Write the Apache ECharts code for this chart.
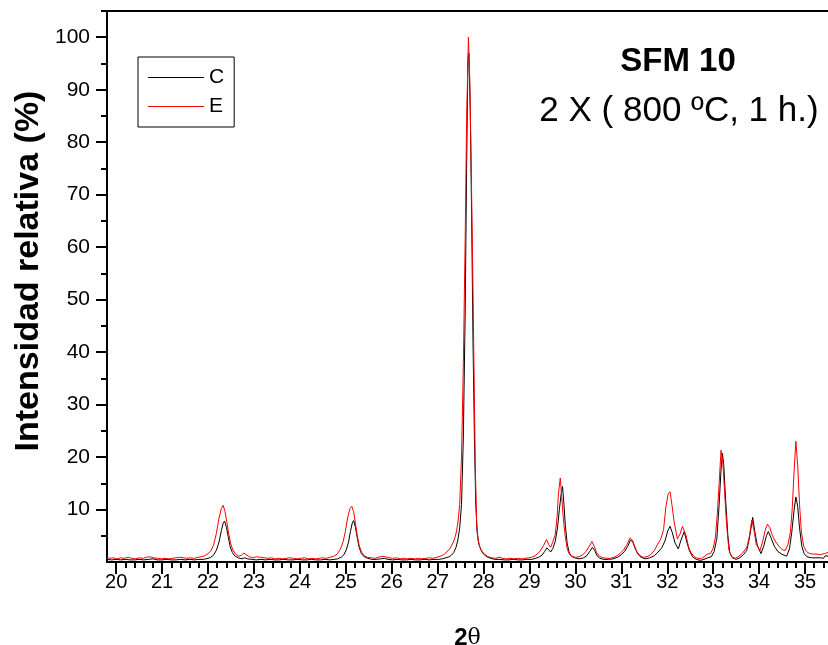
<!DOCTYPE html>
<html>
<head>
<meta charset="utf-8">
<script src="https://cdn.jsdelivr.net/npm/echarts@6/dist/echarts.min.js"></script>
<style>
  html, body { margin: 0; padding: 0; background: #fff; }
  #chart { width: 828px; height: 645px; }
</style>
</head>
<body>
<div id="chart"></div>
<script>
// X-ray diffraction patterns of sample SFM 10, relative intensity vs 2θ
const seriesNames = ['C', 'E'];

// pattern C: [2θ, relative intensity %]
const patternC = [
  [19.80,0.5],[19.90,0.4],[20.00,0.5],[20.10,0.4],[20.20,0.5],[20.30,0.4],[20.40,0.4],[20.50,0.5],
  [20.60,0.4],[20.70,0.5],[20.80,0.6],[20.90,0.4],[21.00,0.4],[21.10,0.5],[21.20,0.4],[21.30,0.4],
  [21.40,0.5],[21.50,0.4],[21.60,0.5],[21.70,0.4],[21.80,0.5],[21.90,0.5],[22.00,0.7],[22.06,0.9],
  [22.12,1.3],[22.18,2.2],[22.24,3.8],[22.29,6.0],[22.33,7.4],[22.36,7.8],[22.40,6.6],[22.44,4.8],
  [22.48,3.0],[22.53,1.8],[22.59,1.1],[22.66,0.8],[22.74,0.6],[22.80,0.8],[22.86,0.6],[22.95,0.5],
  [23.05,0.4],[23.15,0.5],[23.25,0.4],[23.35,0.5],[23.45,0.4],[23.55,0.4],[23.65,0.5],[23.75,0.4],
  [23.85,0.4],[23.95,0.5],[24.05,0.4],[24.15,0.4],[24.25,0.5],[24.35,0.4],[24.45,0.4],[24.55,0.5],
  [24.65,0.4],[24.75,0.5],[24.82,0.6],[24.90,0.9],[24.96,1.4],[25.01,2.3],[25.06,3.8],[25.10,5.8],
  [25.14,7.4],[25.17,7.9],[25.21,6.6],[25.25,4.6],[25.29,2.8],[25.34,1.6],[25.40,1.0],[25.48,0.7],
  [25.56,0.5],[25.66,0.5],[25.76,0.6],[25.84,0.7],[25.92,0.5],[26.02,0.4],[26.12,0.5],[26.22,0.4],
  [26.32,0.4],[26.42,0.5],[26.52,0.4],[26.62,0.4],[26.72,0.5],[26.82,0.4],[26.92,0.5],[27.02,0.5],
  [27.10,0.6],[27.18,0.8],[27.25,1.0],[27.30,1.3],[27.35,1.8],[27.40,2.8],[27.44,4.2],[27.48,6.5],
  [27.52,11.0],[27.56,24.0],[27.60,48.0],[27.63,75.0],[27.66,96.0],[27.68,97.0],[27.71,86.0],[27.74,66.0],
  [27.77,42.0],[27.80,24.0],[27.83,11.0],[27.86,5.6],[27.90,3.3],[27.95,2.2],[28.00,1.5],[28.07,1.0],
  [28.15,0.7],[28.25,0.5],[28.35,0.5],[28.45,0.4],[28.55,0.4],[28.65,0.5],[28.75,0.4],[28.85,0.4],
  [28.95,0.5],[29.05,0.5],[29.13,0.7],[29.20,0.9],[29.27,1.3],[29.33,2.0],[29.38,2.7],[29.42,2.3],
  [29.46,1.9],[29.51,2.6],[29.56,3.9],[29.61,6.5],[29.65,10.0],[29.69,13.0],[29.72,14.4],[29.75,11.0],
  [29.78,7.0],[29.82,3.6],[29.86,1.9],[29.91,1.1],[29.98,0.8],[30.08,0.6],[30.18,0.8],[30.25,1.2],
  [30.31,2.0],[30.37,2.8],[30.42,2.2],[30.47,1.2],[30.53,0.7],[30.62,0.5],[30.72,0.5],[30.82,0.6],
  [30.92,0.9],[31.00,1.4],[31.07,2.0],[31.14,3.0],[31.20,4.2],[31.25,3.8],[31.30,2.6],[31.36,1.5],
  [31.43,0.9],[31.52,0.6],[31.62,0.8],[31.72,1.2],[31.80,1.9],[31.88,2.7],[31.95,4.0],[32.01,5.9],
  [32.06,6.8],[32.11,5.6],[32.17,3.6],[32.24,2.5],[32.30,4.2],[32.37,5.8],[32.42,4.0],[32.48,2.2],
  [32.55,1.0],[32.63,0.5],[32.72,0.3],[32.80,0.5],[32.88,0.8],[32.96,1.0],[33.02,2.0],[33.08,4.5],
  [33.13,11.0],[33.17,17.5],[33.20,20.7],[33.23,18.5],[33.27,12.0],[33.32,5.0],[33.36,1.8],[33.42,0.8],
  [33.50,0.5],[33.58,0.8],[33.66,1.4],[33.73,2.2],[33.79,4.6],[33.86,8.5],[33.91,5.6],[33.96,3.2],
  [34.04,1.6],[34.10,3.0],[34.16,5.0],[34.20,5.8],[34.26,4.6],[34.33,3.0],[34.41,2.0],[34.49,1.5],
  [34.60,1.1],[34.66,2.5],[34.71,5.6],[34.76,9.8],[34.80,12.4],[34.84,10.6],[34.88,6.5],[34.93,3.0],
  [34.98,1.6],[35.04,1.0],[35.14,0.8],[35.24,0.8],[35.34,0.8],[35.40,0.7],[35.44,1.2],[35.50,1.1]
];

// pattern E: [2θ, relative intensity %]
const patternE = [
  [19.80,0.9],[19.86,0.7],[19.94,0.8],[20.02,0.6],[20.10,0.8],[20.18,0.7],[20.26,0.9],[20.34,0.7],
  [20.42,0.6],[20.50,0.8],[20.58,0.7],[20.66,0.9],[20.74,1.0],[20.82,0.8],[20.90,0.7],[20.98,0.6],
  [21.06,0.7],[21.14,0.6],[21.22,0.7],[21.30,0.8],[21.38,0.9],[21.46,0.8],[21.54,0.7],[21.62,0.8],
  [21.70,0.7],[21.78,0.9],[21.86,1.0],[21.93,1.2],[22.00,1.6],[22.06,2.1],[22.12,3.2],[22.18,5.4],
  [22.24,8.4],[22.29,10.2],[22.33,10.8],[22.37,9.6],[22.41,7.6],[22.45,5.4],[22.49,3.6],[22.54,2.3],
  [22.60,1.5],[22.67,1.1],[22.73,1.3],[22.78,1.7],[22.83,1.4],[22.90,1.0],[22.98,0.8],[23.06,1.0],
  [23.14,0.9],[23.22,0.8],[23.30,0.7],[23.38,0.8],[23.46,0.6],[23.54,0.7],[23.62,0.6],[23.70,0.7],
  [23.78,0.8],[23.86,0.7],[23.94,0.6],[24.02,0.7],[24.10,0.8],[24.18,0.6],[24.26,0.7],[24.34,0.6],
  [24.42,0.7],[24.50,0.8],[24.58,0.7],[24.66,0.9],[24.74,1.1],[24.81,1.5],[24.88,2.4],[24.94,3.8],
  [24.99,5.8],[25.04,8.4],[25.09,10.2],[25.13,10.6],[25.17,9.6],[25.21,7.4],[25.25,5.0],[25.29,3.2],
  [25.34,1.9],[25.40,1.2],[25.47,0.9],[25.55,0.8],[25.63,0.7],[25.71,0.9],[25.79,1.1],[25.86,1.0],
  [25.94,0.8],[26.02,0.7],[26.10,0.8],[26.18,0.6],[26.26,0.7],[26.34,0.6],[26.42,0.7],[26.50,0.6],
  [26.58,0.7],[26.66,0.6],[26.74,0.7],[26.82,0.8],[26.90,0.7],[26.98,0.9],[27.06,1.1],[27.13,1.4],
  [27.20,1.9],[27.26,2.5],[27.31,3.2],[27.36,4.2],[27.40,5.4],[27.44,7.4],[27.48,11.0],[27.52,20.0],
  [27.56,38.0],[27.60,62.0],[27.63,84.0],[27.67,100.0],[27.70,92.0],[27.73,76.0],[27.76,58.0],[27.79,38.0],
  [27.82,18.0],[27.85,7.5],[27.88,4.2],[27.92,2.8],[27.97,2.0],[28.03,1.4],[28.10,1.0],[28.18,0.8],
  [28.26,0.7],[28.34,0.9],[28.42,0.7],[28.50,0.6],[28.58,0.7],[28.66,0.6],[28.74,0.7],[28.82,0.6],
  [28.90,0.7],[28.98,0.8],[29.05,0.9],[29.12,1.2],[29.19,1.7],[29.25,2.3],[29.31,3.2],[29.37,4.3],
  [29.42,3.3],[29.46,2.8],[29.51,3.9],[29.56,5.2],[29.60,8.5],[29.63,13.0],[29.67,16.0],[29.70,12.5],
  [29.74,8.0],[29.78,4.8],[29.82,2.6],[29.86,1.6],[29.92,1.1],[30.00,0.9],[30.08,1.0],[30.16,1.4],
  [30.23,2.0],[30.30,3.0],[30.36,3.9],[30.41,3.0],[30.46,1.8],[30.52,1.1],[30.60,0.8],[30.68,0.7],
  [30.76,0.7],[30.84,0.9],[30.91,1.2],[30.98,1.7],[31.05,2.3],[31.12,3.3],[31.19,4.6],[31.24,4.2],
  [31.29,3.0],[31.34,1.9],[31.41,1.2],[31.48,0.9],[31.56,1.0],[31.64,1.4],[31.72,2.2],[31.79,3.4],
  [31.86,4.4],[31.92,6.2],[31.97,10.5],[32.02,13.0],[32.06,13.4],[32.10,11.0],[32.15,7.6],[32.22,4.4],
  [32.28,5.4],[32.33,6.8],[32.36,7.1],[32.41,5.0],[32.46,3.0],[32.52,1.7],[32.59,1.0],[32.66,0.7],
  [32.74,0.6],[32.80,1.0],[32.87,1.5],[32.94,1.6],[33.00,2.6],[33.05,4.8],[33.09,9.2],[33.13,15.0],
  [33.17,21.3],[33.21,19.0],[33.25,13.0],[33.29,7.4],[33.34,2.4],[33.40,1.0],[33.48,0.7],[33.56,1.1],
  [33.63,1.6],[33.70,2.4],[33.74,3.0],[33.79,5.0],[33.84,8.0],[33.89,6.0],[33.94,3.3],[34.02,2.2],
  [34.08,4.0],[34.13,6.0],[34.18,7.2],[34.23,6.6],[34.29,5.0],[34.35,4.0],[34.43,3.0],[34.51,2.3],
  [34.57,2.2],[34.63,3.4],[34.68,5.6],[34.72,10.0],[34.76,17.0],[34.80,23.0],[34.84,18.5],[34.88,11.0],
  [34.92,5.8],[34.97,3.0],[35.03,2.0],[35.10,1.6],[35.18,1.5],[35.26,1.5],[35.34,1.4],[35.42,1.6],
  [35.50,1.8]
];

// axis ticks
const xMajorTicks = [20, 21, 22, 23, 24, 25, 26, 27, 28, 29, 30, 31, 32, 33, 34, 35];
const yMajorTicks = [10, 20, 30, 40, 50, 60, 70, 80, 90, 100];
const yMinorTicks = [5, 15, 25, 35, 45, 55, 65, 75, 85, 95, 105];

// minor x ticks every 0.2 between major ticks
const xMinorTicks = [];
xMajorTicks.forEach(function (m) {
  [0.2, 0.4, 0.6, 0.8].forEach(function (d) {
    const v = Math.round((m + d) * 10) / 10;
    if (v < 35.5) xMinorTicks.push(v);
  });
});

const FONT = '"Liberation Sans", Arial, Helvetica, sans-serif';
const X_MIN = 19.8, X_MAX = 35.5, Y_MIN = 0, Y_MAX = 105;

const chart = echarts.init(document.getElementById('chart'), null, { renderer: 'canvas' });

const axisLineStyle = { color: '#000', width: 2 };

chart.setOption({
  animation: false,
  backgroundColor: '#fff',
  grid: { left: 107, top: 11, right: 0, bottom: 83, containLabel: false, outerBoundsMode: 'none' },
  legend: {
    data: seriesNames,
    orient: 'vertical',
    left: 138,
    top: 57,
    padding: [10, 10, 10, 10],
    itemGap: 8,
    itemWidth: 56,
    itemHeight: 1.2,
    icon: 'rect',
    borderColor: '#000',
    borderWidth: 1,
    textStyle: { fontFamily: FONT, fontSize: 21, color: '#000', padding: [0, 0, 0, 0] }
  },
  xAxis: [
    {
      type: 'value', min: X_MIN, max: X_MAX, position: 'bottom',
      axisLine: { show: true, onZero: false, lineStyle: axisLineStyle },
      axisTick: { show: true, customValues: xMajorTicks, length: 12, lineStyle: { color: '#000', width: 2 } },
      axisLabel: { show: true, customValues: xMajorTicks, fontFamily: FONT, fontSize: 20, color: '#000', margin: 10 },
      splitLine: { show: false },
      name: '{b|2}{t|θ}',
      nameLocation: 'middle',
      nameGap: 64,
      nameTextStyle: {
        rich: {
          b: { fontFamily: FONT, fontWeight: 'bold', fontSize: 24, color: '#000' },
          t: { fontFamily: '"DejaVu Serif", "Liberation Serif", serif', fontSize: 22, color: '#000' }
        }
      }
    },
    {
      type: 'value', min: X_MIN, max: X_MAX, position: 'bottom',
      axisLine: { show: false, onZero: false },
      axisTick: { show: true, customValues: xMinorTicks, length: 6, lineStyle: { color: '#000', width: 2 } },
      axisLabel: { show: false },
      splitLine: { show: false }
    },
    {
      type: 'value', min: X_MIN, max: X_MAX, position: 'top',
      axisLine: { show: true, onZero: false, lineStyle: axisLineStyle },
      axisTick: { show: false },
      axisLabel: { show: false },
      splitLine: { show: false }
    }
  ],
  yAxis: [
    {
      type: 'value', min: Y_MIN, max: Y_MAX, position: 'left',
      axisLine: { show: true, onZero: false, lineStyle: axisLineStyle },
      axisTick: { show: true, customValues: yMajorTicks, length: 11, lineStyle: { color: '#000', width: 2 } },
      axisLabel: { show: true, customValues: yMajorTicks, fontFamily: FONT, fontSize: 21, color: '#000', margin: 17 },
      splitLine: { show: false }
    },
    {
      type: 'value', min: Y_MIN, max: Y_MAX, position: 'left',
      axisLine: { show: false, onZero: false },
      axisTick: { show: true, customValues: yMinorTicks, length: 6, lineStyle: { color: '#000', width: 2 } },
      axisLabel: { show: false },
      splitLine: { show: false }
    }
  ],
  graphic: [
    {
      type: 'text',
      x: 29, y: 271, rotation: Math.PI / 2,
      style: {
        text: 'Intensidad relativa (%)', fontFamily: FONT, fontWeight: 'bold', fontSize: 34,
        fill: '#000', textAlign: 'center', textVerticalAlign: 'middle'
      }
    },
    {
      type: 'text',
      x: 678, y: 62,
      style: {
        text: 'SFM 10', fontFamily: FONT, fontWeight: 'bold', fontSize: 33,
        fill: '#000', textAlign: 'center', textVerticalAlign: 'middle'
      }
    },
    {
      type: 'text',
      x: 679, y: 111,
      style: {
        text: '2 X ( 800 ºC, 1 h.)', fontFamily: FONT, fontSize: 35,
        fill: '#000', textAlign: 'center', textVerticalAlign: 'middle'
      }
    }
  ],
  series: [
    {
      name: seriesNames[0], type: 'line', data: patternC,
      xAxisIndex: 0, yAxisIndex: 0,
      showSymbol: false, symbol: 'none', smooth: false,
      lineStyle: { color: '#000', width: 1 }, itemStyle: { color: '#000' }
    },
    {
      name: seriesNames[1], type: 'line', data: patternE,
      xAxisIndex: 0, yAxisIndex: 0,
      showSymbol: false, symbol: 'none', smooth: false,
      lineStyle: { color: '#ff0000', width: 1 }, itemStyle: { color: '#ff0000' }
    }
  ]
});
</script>
</body>
</html>
